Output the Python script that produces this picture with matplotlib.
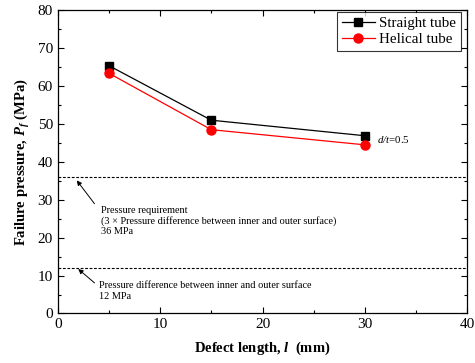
import matplotlib
matplotlib.use("Agg")
import matplotlib.pyplot as plt
from matplotlib.ticker import MultipleLocator

plt.rcParams['font.family'] = ['Liberation Serif', 'DejaVu Serif']
plt.rcParams['mathtext.fontset'] = 'custom'
plt.rcParams['mathtext.rm'] = 'Liberation Serif'
plt.rcParams['mathtext.it'] = 'Liberation Serif:italic:bold'
plt.rcParams['mathtext.bf'] = 'Liberation Serif:bold'
plt.rcParams['mathtext.sf'] = 'Liberation Serif:italic'

defect_length = [5, 15, 30]
straight_tube = [65.4, 51.0, 46.9]
helical_tube = [63.4, 48.5, 44.5]
pressure_requirement = 36
pressure_difference = 12

fig = plt.figure(figsize=(4.75, 3.63), dpi=100)
ax = fig.add_axes([0.1215, 0.1364, 0.8623, 0.8352])

ax.plot(defect_length, straight_tube, color='black', lw=0.9, marker='s', ms=6,
        label='Straight tube')
ax.plot(defect_length, helical_tube, color='red', lw=0.9, marker='o', ms=6.5,
        label='Helical tube')

ax.axhline(pressure_requirement, color='black', lw=0.8, ls=(0, (2.5, 1.5)))
ax.axhline(pressure_difference, color='black', lw=0.8, ls=(0, (2.5, 1.5)))

ax.annotate('', xy=(1.7, 35.7), xytext=(3.75, 28.4),
            arrowprops=dict(arrowstyle='-|>', color='black', lw=0.7,
                            mutation_scale=7))
ax.text(4.2, 24.4, 'Pressure requirement\n(3 × Pressure difference between inner and outer surface)\n36 MPa',
        fontsize=7.4, va='center', ha='left', linespacing=1.2)
ax.annotate('', xy=(1.8, 12.2), xytext=(3.8, 7.6),
            arrowprops=dict(arrowstyle='-|>', color='black', lw=0.7,
                            mutation_scale=7))
ax.text(4.0, 5.9, 'Pressure difference between inner and outer surface\n12 MPa',
        fontsize=7.4, va='center', ha='left', linespacing=1.2)

ax.text(31.2, 46.0, r'$\mathsf{d/t}$=0.5', fontsize=7.8, va='center', ha='left')

ax.set_xlim(0, 40)
ax.set_ylim(0, 80)
ax.xaxis.set_major_locator(MultipleLocator(10))
ax.xaxis.set_minor_locator(MultipleLocator(5))
ax.yaxis.set_major_locator(MultipleLocator(10))
ax.yaxis.set_minor_locator(MultipleLocator(5))
ax.tick_params(which='both', direction='in', top=True, right=True, labelsize=11,
               width=0.8)
ax.tick_params(which='major', length=4)
ax.tick_params(which='minor', length=2.5)
for s in ax.spines.values():
    s.set_linewidth(0.9)

ax.set_xlabel(r'Defect length, $l$  (mm)', fontsize=10.5, fontweight='bold', labelpad=6)
ax.set_ylabel(r'Failure pressure, $P_f$ (MPa)', fontsize=10.5, fontweight='bold', labelpad=4)

leg = ax.legend(loc='upper right', bbox_to_anchor=(0.984, 0.993), fontsize=10.8,
                frameon=True, fancybox=False, edgecolor='black', borderpad=0.3,
                handlelength=2.2, handletextpad=0.3, labelspacing=0.15,
                borderaxespad=0)
leg.get_frame().set_linewidth(0.8)

fig.savefig('out.png', dpi=100)
